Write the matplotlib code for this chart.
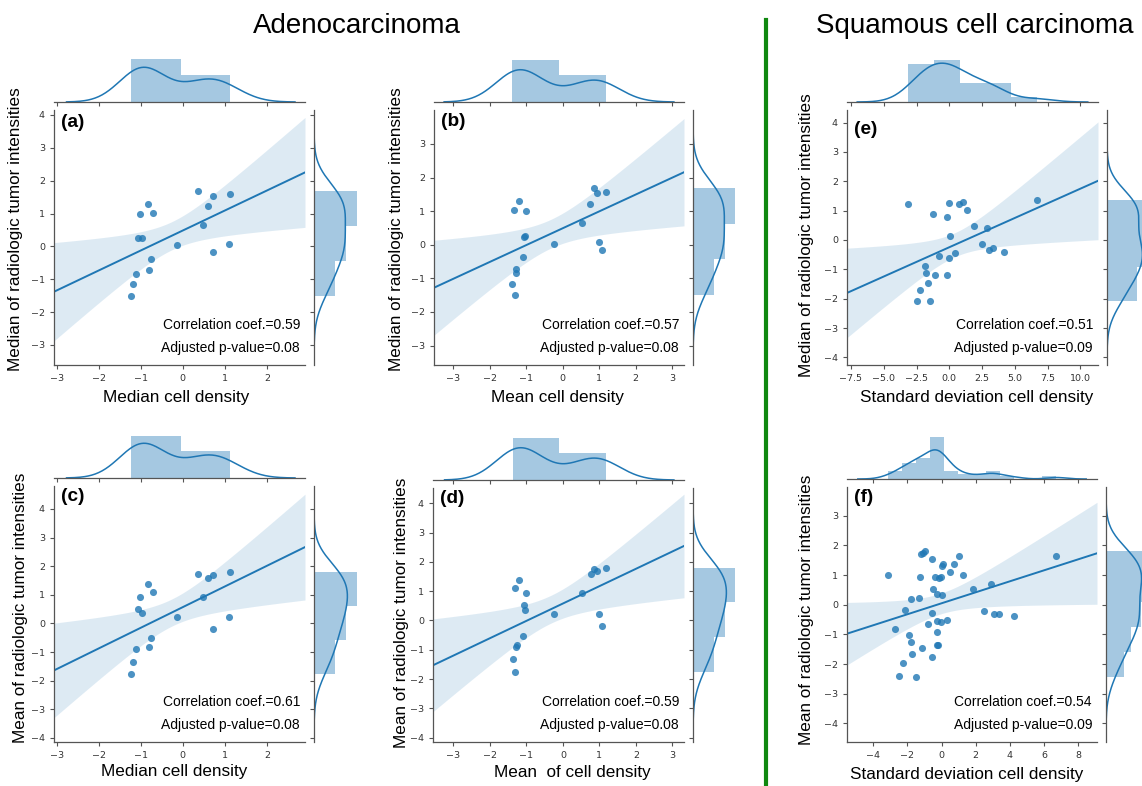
import numpy as np
import matplotlib.pyplot as plt
from matplotlib.lines import Line2D

W, H = 1142, 786
BLUE = '#1f77b4'
LABEL_FONT = 'Liberation Sans'

plt.rcParams['font.family'] = 'DejaVu Sans'

# Adenocarcinoma cohort (18 tumours), z-scored values
median_cd_adeno = [-1.23, -1.19, -1.11, -1.03, -1.06, -0.97, -0.82, -0.71, -0.76,
                   -0.80, -0.14, 0.35, 0.61, 0.72, 1.13, 0.48, 1.10, 0.72]
mean_cd_adeno = [-1.30, -1.38, -1.29, -1.00, -1.07, -1.04, -1.20, -1.32, -1.09,
                 -1.27, -0.25, 0.85, 0.76, 0.94, 1.18, 0.53, 0.99, 1.07]
median_rad_adeno = [-1.50, -1.16, -0.83, 0.99, 0.24, 0.26, 1.29, 1.02, -0.37,
                    -0.71, 0.03, 1.69, 1.22, 1.53, 1.58, 0.65, 0.08, -0.16]
mean_rad_adeno = [-1.76, -1.33, -0.90, 0.94, 0.51, 0.35, 1.38, 1.11, -0.52,
                  -0.83, 0.21, 1.74, 1.57, 1.69, 1.80, 0.92, 0.21, -0.20]

# Squamous cell carcinoma cohort
sd_cd_sq_median = [-3.16, -1.21, -0.15, 0.00, 0.76, 1.07, 1.32, 0.08, 1.89, 2.85,
                   2.50, 3.03, 3.36, 4.15, 6.70, -0.79, -0.05, 0.41, -1.83, -1.78,
                   -1.10, -0.15, -1.63, -2.22, -2.47, -1.48]
median_rad_sq = [1.24, 0.88, 0.80, 1.26, 1.23, 1.31, 1.01, 0.13, 0.49, 0.42,
                 -0.15, -0.35, -0.27, -0.42, 1.35, -0.55, -0.63, -0.45, -0.90, -1.13,
                 -1.18, -1.18, -1.45, -1.72, -2.07, -2.07]
sd_cd_sq_mean = [-3.16, -2.70, -2.46, -2.28, -2.13, -1.88, -1.80, -1.76, -1.70, -1.47,
                 -1.31, -1.24, -1.14, -1.18, -1.06, -0.94, -0.81, -0.58, -0.55, -0.56,
                 -0.48, -0.38, -0.17, -0.05, -0.28, -0.28, -0.24, -0.22, -0.24, -0.05,
                 0.05, 0.01, 0.11, 0.34, 0.48, 0.71, 1.04, 1.27, 1.86, 2.50,
                 2.89, 3.06, 3.37, 4.21, 6.72]
mean_rad_sq = [1.01, -0.83, -2.39, -1.98, -0.19, -1.02, -1.25, 0.18, -1.65, -2.44,
               0.21, 0.93, -1.45, 1.70, 1.74, 1.80, -0.66, -0.28, 1.55, -1.76,
               0.52, 0.93, 0.90, 0.92, 0.35, -0.92, -1.35, -1.35, -0.55, -0.58,
               0.33, 1.30, 1.37, -0.52, 1.11, 1.37, 1.64, 1.01, 0.53, -0.22,
               0.71, -0.31, -0.31, -0.39, 1.64]

panel_tags = ['(a)', '(b)', '(c)', '(d)', '(e)', '(f)']
x_titles = ['Median cell density', 'Mean cell density', 'Median cell density',
            'Mean  of cell density', 'Standard deviation cell density',
            'Standard deviation cell density']
y_titles = ['Median of radiologic tumor intensities'] * 2 + \
           ['Mean of radiologic tumor intensities'] * 2 + \
           ['Median of radiologic tumor intensities',
            'Mean of radiologic tumor intensities']
corr_coef = ['0.59', '0.57', '0.61', '0.59', '0.51', '0.54']
adj_pval = ['0.08', '0.08', '0.08', '0.08', '0.09', '0.09']

xs_data = [median_cd_adeno, mean_cd_adeno, median_cd_adeno, mean_cd_adeno,
           sd_cd_sq_median, sd_cd_sq_mean]
ys_data = [median_rad_adeno, median_rad_adeno, mean_rad_adeno, mean_rad_adeno,
           median_rad_sq, mean_rad_sq]

# panel layout in pixels: left, top, right, bottom of the joint axes
boxes = [(54, 110, 305, 365), (434, 110, 684, 365),
         (54, 486, 305, 742), (433, 488, 684, 742),
         (847, 110, 1098, 365), (847, 487, 1097, 742)]
xlims = [(-3.07, 2.91), (-3.52, 3.32), (-3.07, 2.91), (-3.56, 3.32),
         (-7.80, 11.34), (-5.53, 9.09)]
ylims = [(-3.61, 4.15), (-3.58, 4.01), (-4.14, 4.80), (-4.15, 4.52),
         (-4.26, 4.43), (-4.63, 3.97)]
xtick_sets = [np.arange(-3, 3), np.arange(-3, 4), np.arange(-3, 3), np.arange(-3, 4),
              np.arange(-7.5, 10.1, 2.5), np.arange(-4, 9, 2)]
ytick_sets = [np.arange(-3, 5), np.arange(-3, 4), np.arange(-4, 5), np.arange(-4, 5),
              np.arange(-4, 5), np.arange(-4, 4)]
bins_top = [2, 2, 2, 2, 5, 12]
bins_side = [3, 3, 3, 3, 3, 5]
tag_y = [0.95, 0.955, 0.958, 0.96, 0.925, 0.957]
ylab_pos = [(-0.155, 0.533), (-0.148, 0.533), (-0.135, 0.523),
            (-0.127, 0.508), (-0.163, 0.508), (-0.163, 0.518)]
xlab_pos = [(0.485, -0.129), (0.494, -0.129), (0.478, -0.117),
            (0.554, -0.121), (0.518, -0.129), (0.48, -0.129)]


def kde(v):
    # gaussian KDE, Scott's rule with robust sigma, cut = 3 bandwidths
    v = np.asarray(v, float)
    n = len(v)
    q75, q25 = np.percentile(v, [75, 25])
    sigma = min(v.std(ddof=1), (q75 - q25) / 1.349)
    bw = 1.059 * sigma * n ** -0.2
    grid = np.linspace(v.min() - 3 * bw, v.max() + 3 * bw, 200)
    dens = np.exp(-0.5 * ((grid[:, None] - v[None, :]) / bw) ** 2).sum(1)
    return grid, dens / (n * bw * np.sqrt(2 * np.pi))


def fit_with_band(x, y, grid):
    x = np.asarray(x, float)
    y = np.asarray(y, float)
    n = len(x)
    slope, icpt = np.polyfit(x, y, 1)
    resid = y - (icpt + slope * x)
    s = np.sqrt((resid ** 2).sum() / (n - 2))
    sxx = ((x - x.mean()) ** 2).sum()
    z = 1.959964
    df = n - 2
    t = z + (z ** 3 + z) / (4 * df) + (5 * z ** 5 + 16 * z ** 3 + 3 * z) / (96 * df ** 2)
    half = t * s * np.sqrt(1.0 / n + (grid - x.mean()) ** 2 / sxx)
    fit = icpt + slope * grid
    return fit, fit - half, fit + half


def style_spines(ax, keep):
    for side in ['top', 'bottom', 'left', 'right']:
        ax.spines[side].set_visible(side in keep)
        ax.spines[side].set_color('#555555')
        ax.spines[side].set_linewidth(0.9)
    ax.tick_params(colors='#555555', labelcolor='#333333', labelsize=6.8,
                   length=3, width=0.8)


def joint_panel(fig, i):
    L, T, R, B = boxes[i]
    x, y = xs_data[i], ys_data[i]
    ax = fig.add_axes([L / W, 1 - B / H, (R - L) / W, (B - T) / H])
    top = fig.add_axes([L / W, 1 - (T - 8) / H, (R - L) / W, 51 / H], sharex=ax)
    side = fig.add_axes([(R + 9) / W, 1 - B / H, 51 / W, (B - T) / H], sharey=ax)

    # regression line with 95% band over the full x range
    grid = np.linspace(xlims[i][0], xlims[i][1], 100)
    fit, lo, hi = fit_with_band(x, y, grid)
    ax.fill_between(grid, lo, hi, color=BLUE, alpha=0.15, lw=0)
    ax.plot(grid, fit, color=BLUE, lw=1.4)
    ax.scatter(x, y, s=26, color=BLUE, alpha=0.8, lw=0, zorder=3)

    ax.set_xlim(*xlims[i])
    ax.set_ylim(*ylims[i])
    ax.set_xticks(xtick_sets[i])
    ax.set_yticks(ytick_sets[i])
    style_spines(ax, ['left', 'bottom'])

    ax.text(0.027, tag_y[i], panel_tags[i], transform=ax.transAxes, ha='left',
            va='center', fontsize=13.7, fontweight='bold', family=LABEL_FONT)
    ax.text(0.98, 0.158, 'Correlation coef.=' + corr_coef[i], transform=ax.transAxes,
            ha='right', va='center', fontsize=10, family=LABEL_FONT)
    ax.text(0.98, 0.065, 'Adjusted p-value=' + adj_pval[i], transform=ax.transAxes,
            ha='right', va='center', fontsize=10, family=LABEL_FONT)

    ax.set_xlabel(x_titles[i], fontsize=12.3, family=LABEL_FONT)
    ax.set_ylabel(y_titles[i], fontsize=12.3, family=LABEL_FONT)
    ax.xaxis.set_label_coords(*xlab_pos[i])
    ax.yaxis.set_label_coords(*ylab_pos[i])
    ax.xaxis.label.set_va('center')
    ax.yaxis.label.set_va('center')

    # marginal distributions
    hx, _, _ = top.hist(x, bins=bins_top[i], density=True, color=BLUE, alpha=0.4)
    gx, dx = kde(x)
    top.plot(gx, dx, color=BLUE, lw=1.1)
    hy, _, _ = side.hist(y, bins=bins_side[i], density=True, color=BLUE, alpha=0.4,
                         orientation='horizontal')
    gy, dy = kde(y)
    side.plot(dy, gy, color=BLUE, lw=1.1)

    style_spines(top, ['bottom'])
    top.tick_params(labelbottom=False, left=False, labelleft=False)
    style_spines(side, ['left'])
    side.tick_params(labelleft=False, bottom=False, labelbottom=False)
    top.set_ylim(0, 1.2 * max(hx.max(), dx.max()))
    side.set_xlim(0, 1.2 * max(hy.max(), dy.max()))


fig = plt.figure(figsize=(W / 100, H / 100), dpi=100)

for i in range(6):
    joint_panel(fig, i)

fig.text(357 / W, 1 - 26 / H, 'Adenocarcinoma', ha='center', va='center',
         fontsize=20, family=LABEL_FONT)
fig.text(975 / W, 1 - 26 / H, 'Squamous cell carcinoma', ha='center', va='center',
         fontsize=20, family=LABEL_FONT)

# divider between the two cohorts
fig.add_artist(Line2D([766 / W, 766 / W], [1 - 20 / H, 1 - 786 / H],
                      color='#108810', lw=3))

fig.savefig('out.png', dpi=100)
